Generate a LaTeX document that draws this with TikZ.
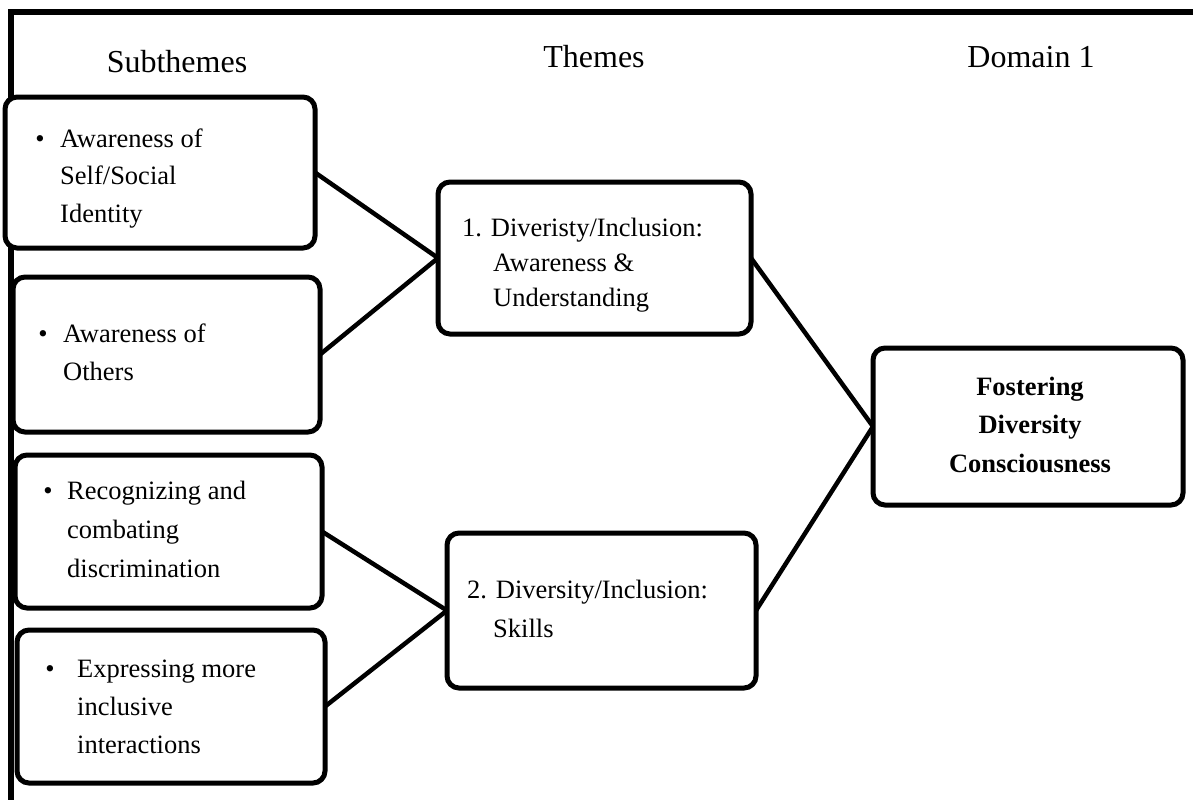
\documentclass[tikz,border=0pt]{standalone}
\usepackage{fontspec}
\setmainfont{Liberation Serif}
\tikzset{
  box/.style={draw, fill=white, line width=5pt, rounded corners=12pt, inner sep=0pt, outer sep=0pt},
  conn/.style={line width=4.5pt},
  frameline/.style={line width=5.5pt},
  body/.style={font=\fontsize{26.5}{38}\selectfont, inner sep=0pt, anchor=base west},
  bul/.style={font=\fontsize{26.5}{38}\selectfont, inner sep=0pt, anchor=base},
  head/.style={font=\fontsize{32}{38}\selectfont, inner sep=0pt, anchor=base},
  dom/.style={font=\fontsize{26.5}{38}\selectfont\bfseries, inner sep=0pt, anchor=base},
}
\begin{document}
\begin{tikzpicture}[x=1pt,y=-1pt]
\useasboundingbox (0,0) rectangle (1193,800);
\fill[white] (0,0) rectangle (1193,800);
% frame
\coordinate (fTR) at (1193,12);
\coordinate (fTL) at (11,12);
\coordinate (fBL) at (11,800);
\draw[frameline] (fTR) -- (fTL) -- (fBL);
% headers
\node[head] (hSub) at (177,72) {Subthemes};
\node[head] (hThm) at (594,67) {Themes};
\node[head] (hDom) at (1031,67) {Domain 1};
% boxes
\node[box, minimum width=310pt, minimum height=151pt] (sA) at (160,172.5) {};
\node[box, minimum width=307pt, minimum height=155pt] (sB) at (166.5,354.5) {};
\node[box, minimum width=307pt, minimum height=153pt] (sC) at (168.5,531.5) {};
\node[box, minimum width=308pt, minimum height=153pt] (sD) at (171,706.5) {};
\node[box, minimum width=313pt, minimum height=152pt] (t1) at (594.5,258) {};
\node[box, minimum width=309pt, minimum height=155pt] (t2) at (601.5,610.5) {};
\node[box, minimum width=310pt, minimum height=157pt] (dm) at (1028,426.5) {};
% connectors
\draw[conn] (sA.east) -- (t1.west);
\draw[conn] (sB.east) -- (t1.west);
\draw[conn] (sC.east) -- (t2.west);
\draw[conn] (sD.east) -- (t2.west);
\draw[conn] (t1.east) -- (dm.west);
\draw[conn] (t2.east) -- (dm.west);
% box A text
\node[bul] (bA) at (40,147) {•};
\node[body] (aA1) at (60,147) {Awareness of};
\node[body] (aA2) at (60,184) {Self/Social};
\node[body] (aA3) at (60,222) {Identity};
% box B text
\node[bul] (bB) at (43,342) {•};
\node[body] (aB1) at (63,342) {Awareness of};
\node[body] (aB2) at (63,380) {Others};
% box C text
\node[bul] (bC) at (48,499) {•};
\node[body] (aC1) at (67,499) {Recognizing and};
\node[body] (aC2) at (67,538) {combating};
\node[body] (aC3) at (67,577) {discrimination};
% box D text
\node[bul] (bD) at (50,677) {•};
\node[body] (aD1) at (77,677) {Expressing more};
\node[body] (aD2) at (77,715) {inclusive};
\node[body] (aD3) at (77,753) {interactions};
% theme 1 text
\node[body] (tA1) at (462,236) {1. Diveristy/Inclusion:};
\node[body] (tA2) at (493,271) {Awareness \&};
\node[body] (tA3) at (493,306) {Understanding};
% theme 2 text
\node[body] (tB1) at (467,598) {2. Diversity/Inclusion:};
\node[body] (tB2) at (493,637) {Skills};
% domain text
\node[dom] (d1) at (1030,395) {Fostering};
\node[dom] (d2) at (1030,433) {Diversity};
\node[dom] (d3) at (1030,472) {Consciousness};
\end{tikzpicture}
\end{document}
